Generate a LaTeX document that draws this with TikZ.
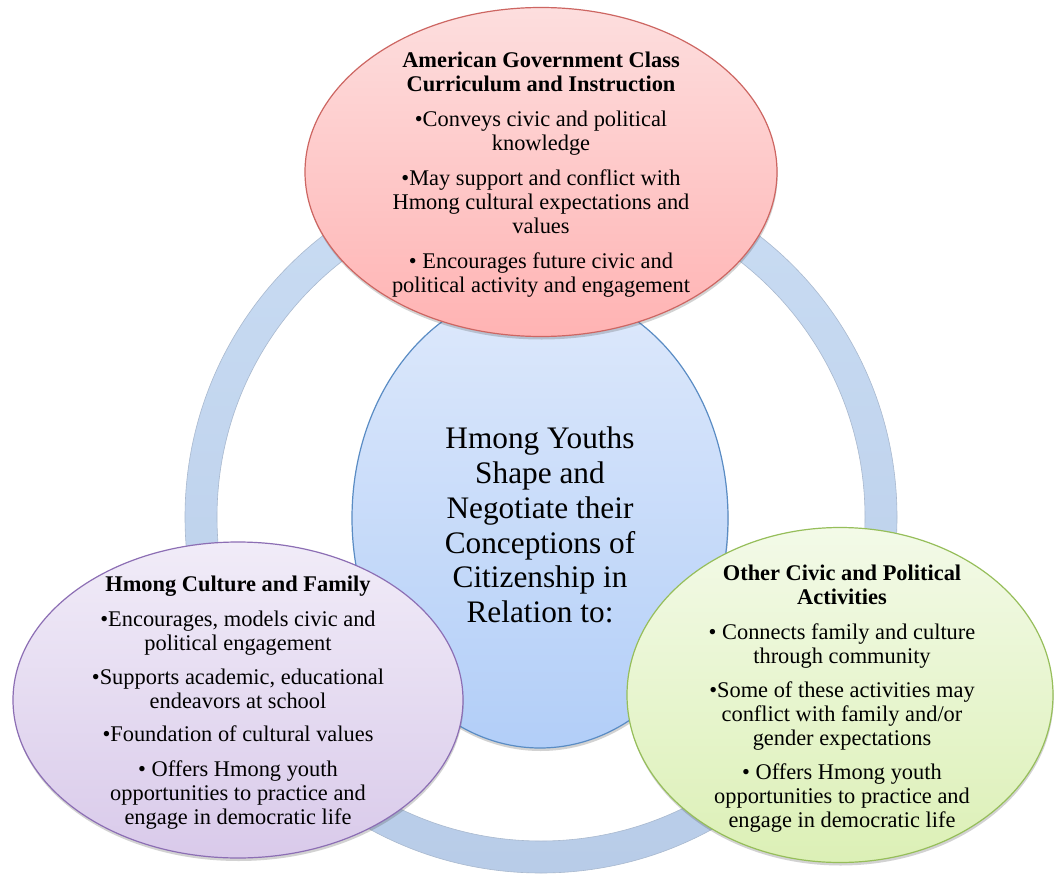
\documentclass[tikz,border=0pt]{standalone}
\usepackage{fontspec}
\setmainfont{Liberation Serif}
\usetikzlibrary{shapes.geometric,shadows}
\definecolor{ringtop}{HTML}{C9DCF3}
\definecolor{ringbot}{HTML}{B8CCE8}
\definecolor{ringedge}{HTML}{A9B9CF}
\definecolor{redtop}{HTML}{FDDEDE}
\definecolor{redbot}{HTML}{FFB3B3}
\definecolor{rededge}{HTML}{CD6662}
\definecolor{bluetop}{HTML}{DEE9FB}
\definecolor{bluebot}{HTML}{B2CEF8}
\definecolor{blueedge}{HTML}{5A8CC4}
\definecolor{purtop}{HTML}{F1ECF8}
\definecolor{purbot}{HTML}{D9CAEA}
\definecolor{puredge}{HTML}{8C6EB4}
\definecolor{grntop}{HTML}{F3FAE8}
\definecolor{grnbot}{HTML}{DCF0B6}
\definecolor{grnedge}{HTML}{96BE5A}
\begin{document}
\begin{tikzpicture}[x=1pt,y=-1pt,
  bubble/.style={ellipse, inner sep=0pt, line width=1.2pt,
    drop shadow={shadow xshift=0.6pt, shadow yshift=-3pt, opacity=0.25, fill=black!70}},
  body/.style={align=center, inner sep=0pt, text=black,
    font=\fontsize{22.4}{24}\selectfont},
  hubtext/.style={align=center, inner sep=0pt, text=black,
    font=\fontsize{31.3}{34.8}\selectfont}]
\useasboundingbox[fill=white] (0,0) rectangle (1055,883);
% ring
\coordinate (rc) at (541,517);
\path[draw=ringedge, line width=0.6pt, top color=ringtop, bottom color=ringbot, even odd rule]
  (rc) circle[radius=356pt] (rc) circle[radius=324pt];
% hub
\node[bubble, draw=blueedge, top color=bluetop, bottom color=bluebot,
  minimum width=376pt, minimum height=460pt] (hub) at (540,518) {};
\node[hubtext] (hubtxt) at (540,525) {Hmong Youths\\Shape and\\Negotiate their\\Conceptions of\\Citizenship in\\Relation to:};
% red
\node[bubble, draw=rededge, top color=redtop, bottom color=redbot,
  minimum width=472pt, minimum height=329pt] (gov) at (541,172) {};
\node[body] (govtxt) at (541,175) {\textbf{American Government Class}\\\textbf{Curriculum and Instruction}\\[11pt]
•Conveys civic and political\\knowledge\\[11pt]
•May support and conflict with\\Hmong cultural expectations and\\values\\[11pt]
• Encourages future civic and\\political activity and engagement};
% purple
\node[bubble, draw=puredge, top color=purtop, bottom color=purbot,
  minimum width=450pt, minimum height=316pt] (fam) at (238,700) {};
\node[body] (famtxt) at (238,703) {\textbf{Hmong Culture and Family}\\[11pt]
•Encourages, models civic and\\political engagement\\[10pt]
•Supports academic, educational\\endeavors at school\\[9pt]
•Foundation of cultural values\\[11pt]
• Offers Hmong youth\\opportunities to practice and\\engage in democratic life};
% green
\node[bubble, draw=grnedge, top color=grntop, bottom color=grnbot,
  minimum width=426pt, minimum height=335pt] (civ) at (840,695) {};
\node[body] (civtxt) at (842,699) {\textbf{Other Civic and Political}\\\textbf{Activities}\\[11pt]
• Connects family and culture\\through community\\[10pt]
•Some of these activities may\\conflict with family and/or\\gender expectations\\[10pt]
• Offers Hmong youth\\opportunities to practice and\\engage in democratic life};
\end{tikzpicture}
\end{document}
